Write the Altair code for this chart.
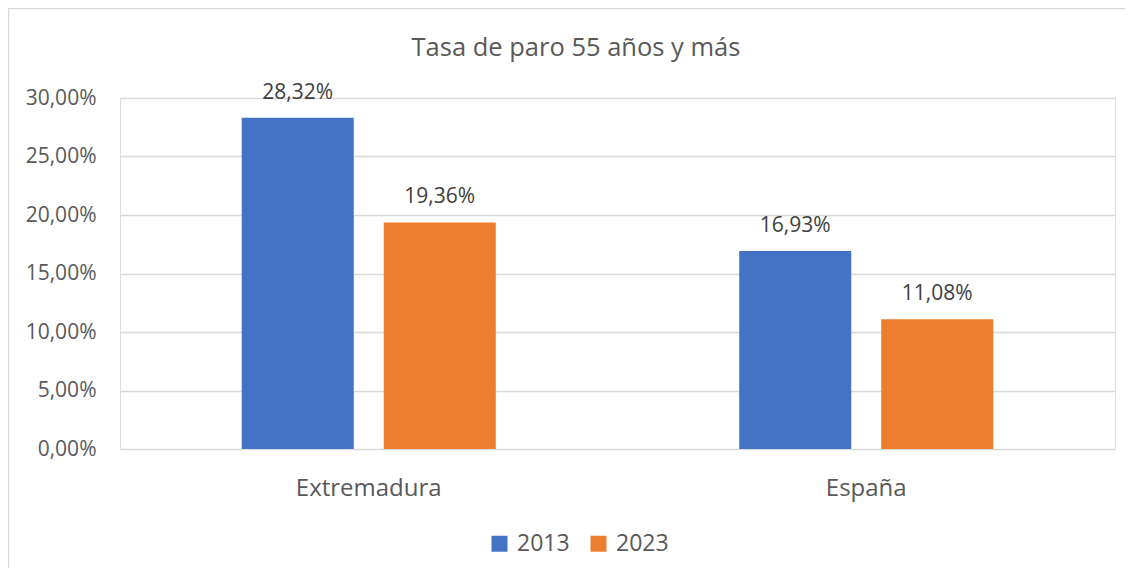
import altair as alt
import pandas as pd

regions = ["Extremadura", "España"]
years = ["2013", "2023"]
values_2013 = [28.32, 16.93]
values_2023 = [19.36, 11.08]
y_ticks = [0, 5, 10, 15, 20, 25, 30]
colors = ["#4472C4", "#ED7D31"]
title_text = "Tasa de paro 55 años y más"

rows = []
for i, r in enumerate(regions):
    for y, vals in zip(years, [values_2013, values_2023]):
        v = vals[i]
        rows.append({"region": r, "year": y, "value": v,
                     "label": f"{v:.2f}".replace(".", ",") + "%"})
df = pd.DataFrame(rows)

FONT = "Open Sans"
TXT = "#595959"

x_enc = alt.X("region:N", sort=regions,
              scale=alt.Scale(paddingInner=0, paddingOuter=0),
              axis=alt.Axis(title=None, labelAngle=0, ticks=False, tickSize=0,
                            domain=False, labelFontSize=24, labelColor=TXT,
                            labelFont=FONT, labelPadding=27))
xoff_enc = alt.XOffset("year:N", sort=years,
                       scale=alt.Scale(paddingInner=0.211, paddingOuter=0.857))
y_enc = alt.Y("value:Q", scale=alt.Scale(domain=[0, 30], nice=False),
              axis=alt.Axis(title=None, values=y_ticks, ticks=False, tickSize=0,
                            domain=False, grid=True, gridColor="#d9d9d9",
                            gridWidth=1.3, labelFontSize=21, labelColor=TXT,
                            labelFont=FONT, labelPadding=24,
                            labelExpr="replace(format(datum.value, '.2f'), '.', ',') + '%'"))

base = alt.Chart(df)

bars = base.mark_bar().encode(
    x=x_enc, xOffset=xoff_enc, y=y_enc,
    color=alt.Color("year:N", sort=years,
                    scale=alt.Scale(domain=years, range=colors),
                    legend=alt.Legend(title=None, orient="none", direction="horizontal",
                                      legendX=368, legendY=434,
                                      symbolType="square", symbolSize=256,
                                      symbolStrokeWidth=0, symbolOpacity=1,
                                      labelFontSize=23, labelColor=TXT, labelFont=FONT,
                                      labelOffset=6, columnPadding=17)),
)

labels = base.mark_text(baseline="alphabetic", dy=-19, fontSize=21,
                        font=FONT, color="#404040").encode(
    x=x_enc, xOffset=xoff_enc, y=y_enc, text="label:N"
)

border = alt.Chart(pd.DataFrame({"k": [0]})).mark_rect(
    fillOpacity=0, stroke="#d9d9d9", strokeWidth=1.5
).encode(
    x=alt.value(-111.5), x2=alt.value(1300),
    y=alt.value(-89.5), y2=alt.value(700)
)

title = alt.Chart(pd.DataFrame({"t": [title_text]})).mark_text(
    fontSize=25.5, font=FONT, color=TXT, align="center", baseline="alphabetic"
).encode(
    x=alt.value(456), y=alt.value(-42), text="t:N"
)

chart = alt.layer(border, bars, labels, title).properties(
    width=995, height=351,
    autosize=alt.AutoSizeParams(type="none"),
    padding={"left": 112, "top": 90, "right": 10, "bottom": 119},
).configure_view(stroke=None).configure(background="white")

chart.save("out.html", embed_options={"renderer": "svg", "actions": False})
